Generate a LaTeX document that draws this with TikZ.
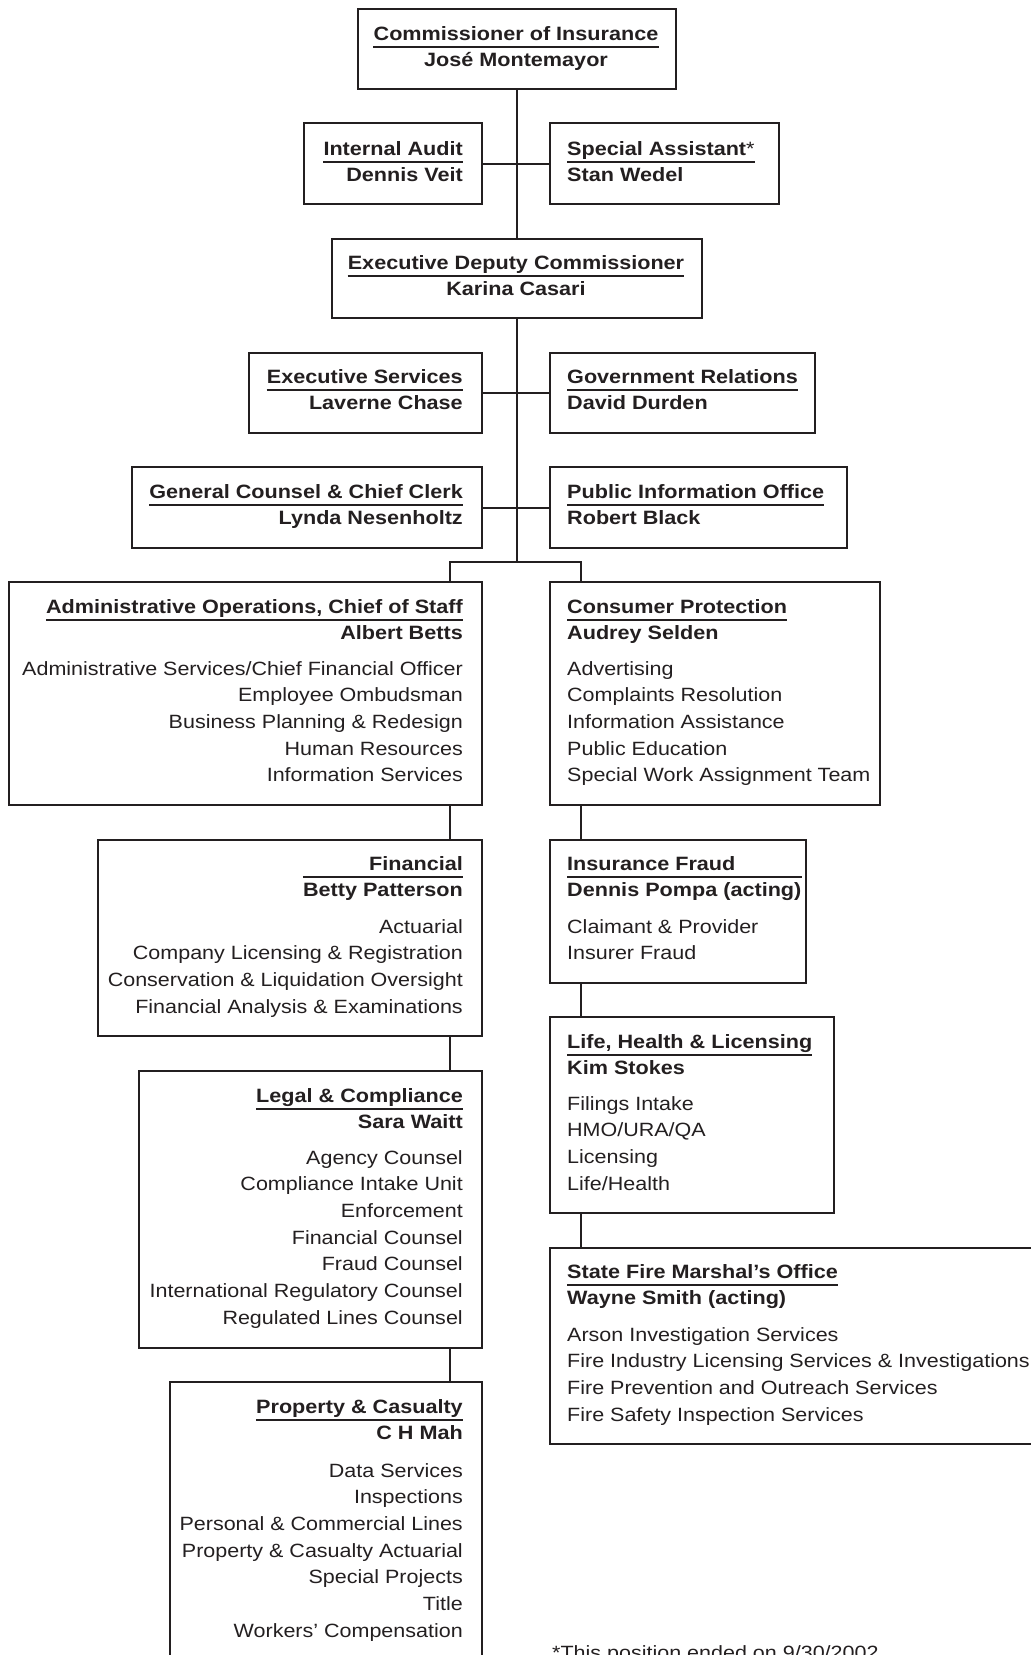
\documentclass[tikz,border=0pt]{standalone}
\usepackage{fontspec}
\setmainfont{Liberation Sans}[FakeStretch=1.12]
\usetikzlibrary{calc}
\definecolor{ink}{HTML}{231F20}
\tikzset{
  box/.style={draw=ink, line width=2pt, inner sep=0pt},
  link/.style={draw=ink, line width=2pt},
  txt/.style={inner sep=0pt, text=ink, font=\fontsize{19.2}{26.7}\selectfont},
  hd/.style={inner sep=0pt, text=ink, font=\fontsize{19.3}{26.7}\selectfont\bfseries},
  hrule/.style={draw=ink, line width=1.3pt},
}
\newcommand\obox[5]{\node[box, anchor=north west, minimum width={#4-#2}, minimum height={#5-#3}] (#1) at (#2,#3) {};}
\newcommand\hdr[6]{%
  \node[hd, anchor=#2] (#1-h) at (#3,#4) {#5};
  \node[hd, anchor=#2] (#1-n) at (#3,{#4+26.7}) {#6};
  \coordinate (#1-ry) at (0,{#4+7});
  \draw[hrule] (#1-h.west |- #1-ry) -- (#1-h.east |- #1-ry);
  \draw[hrule] (#1-n.west |- #1-ry) -- (#1-n.east |- #1-ry);
}
\newcommand\items[5]{\foreach \itm [count=\k from 0] in {#5} {\node[txt, anchor=#2] (#1-\k) at (#3,{#4+26.7*\k}) {\itm};}}
\begin{document}
\begin{tikzpicture}[x=1pt,y=-1pt]
\useasboundingbox (0,0) rectangle (1031,1655);
\clip (0,0) rectangle (1031,1655);
% boxes
\obox{comm}{357}{8}{675}{88}
\obox{ia}{303}{122}{481}{203}
\obox{sa}{549}{122}{778}{203}
\obox{ed}{331}{238}{701}{317}
\obox{es}{248}{352}{481}{432}
\obox{gr}{549}{352}{814}{432}
\obox{gc}{131}{466}{481}{547}
\obox{pio}{549}{466}{846}{547}
\obox{ao}{8}{581}{481}{804}
\obox{cp}{549}{581}{879}{804}
\obox{fin}{97}{839}{481}{1035}
\obox{frd}{549}{839}{805}{982}
\obox{lhl}{549}{1016}{833}{1212}
\obox{leg}{138}{1070}{481}{1347}
\obox{sfm}{549}{1247}{1045}{1443}
\obox{pc}{169}{1381}{481}{1675}
% connectors
\coordinate (jl) at (450,562);
\coordinate (jr) at (581,562);
\draw[link] (comm.south) -- (comm.south |- ed.north);
\draw[link] (ia.east) -- (sa.west);
\draw[link] (ed.south) -- (ed.south |- jl);
\draw[link] (es.east) -- (gr.west);
\draw[link] (gc.east) -- (pio.west);
\draw[link] (jl |- ao.north) -- (jl) -- (jr) -- (jr |- cp.north);
\draw[link] (jl |- ao.south) -- (jl |- fin.north);
\draw[link] (jl |- fin.south) -- (jl |- leg.north);
\draw[link] (jl |- leg.south) -- (jl |- pc.north);
\draw[link] (jr |- cp.south) -- (jr |- frd.north);
\draw[link] (jr |- frd.south) -- (jr |- lhl.north);
\draw[link] (jr |- lhl.south) -- (jr |- sfm.north);
% headers
\hdr{comm}{base}{516}{40}{Commissioner of Insurance}{José Montemayor}
\hdr{ia}{base east}{463}{155}{Internal Audit}{Dennis Veit}
\hdr{sa}{base west}{567}{155}{Special Assistant{\mdseries *}}{Stan Wedel}
\hdr{ed}{base}{516}{269}{Executive Deputy Commissioner}{Karina Casari}
\hdr{es}{base east}{463}{383}{Executive Services}{Laverne Chase}
\hdr{gr}{base west}{567}{383}{Government Relations}{David Durden}
\hdr{gc}{base east}{463}{498}{General Counsel \& Chief Clerk}{Lynda Nesenholtz}
\hdr{pio}{base west}{567}{498}{Public Information Office}{Robert Black}
\hdr{ao}{base east}{463}{613}{Administrative Operations, Chief of Staff}{Albert Betts}
\hdr{cp}{base west}{567}{613}{Consumer Protection}{Audrey Selden}
\hdr{fin}{base east}{463}{870}{Financial}{Betty Patterson}
\hdr{frd}{base west}{567}{870}{Insurance Fraud}{Dennis Pompa (acting)}
\hdr{lhl}{base west}{567}{1048}{Life, Health \& Licensing}{Kim Stokes}
\hdr{leg}{base east}{463}{1102}{Legal \& Compliance}{Sara Waitt}
\hdr{sfm}{base west}{567}{1278}{State Fire Marshal’s Office}{Wayne Smith (acting)}
\hdr{pc}{base east}{463}{1413}{Property \& Casualty}{C H Mah}
% items
\items{aoi}{base east}{463}{675}{Administrative Services/Chief Financial Officer,Employee Ombudsman,Business Planning \& Redesign,Human Resources,Information Services}
\items{cpi}{base west}{567}{675}{Advertising,Complaints Resolution,Information Assistance,Public Education,Special Work Assignment Team}
\items{fini}{base east}{463}{933}{Actuarial,Company Licensing \& Registration,Conservation \& Liquidation Oversight,Financial Analysis \& Examinations}
\items{frdi}{base west}{567}{933}{Claimant \& Provider,Insurer Fraud}
\items{lhli}{base west}{567}{1110}{Filings Intake,HMO/URA/QA,Licensing,Life/Health}
\items{legi}{base east}{463}{1164}{Agency Counsel,Compliance Intake Unit,Enforcement,Financial Counsel,Fraud Counsel,International Regulatory Counsel,Regulated Lines Counsel}
\items{sfmi}{base west}{567}{1341}{Arson Investigation Services,Fire Industry Licensing Services \& Investigations,Fire Prevention and Outreach Services,Fire Safety Inspection Services}
\items{pci}{base east}{463}{1477}{Data Services,Inspections,Personal \& Commercial Lines,Property \& Casualty Actuarial,Special Projects,Title,Workers’ Compensation}
\node[txt, anchor=base west] (fn) at (552,1659) {*This position ended on 9/30/2002};
\end{tikzpicture}
\end{document}
